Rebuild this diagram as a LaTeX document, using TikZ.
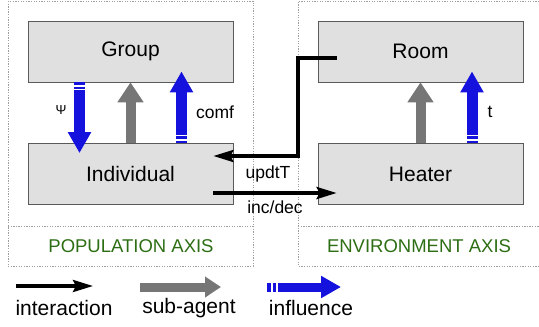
\documentclass[tikz,border=0pt]{standalone}
\usepackage{fontspec}
\setmainfont{Liberation Sans}
\usetikzlibrary{arrows.meta,calc}
\definecolor{boxfill}{RGB}{224,224,224}
\definecolor{boxline}{RGB}{90,90,90}
\definecolor{inflblue}{RGB}{22,18,222}
\definecolor{subgray}{RGB}{118,118,118}
\definecolor{axisgreen}{RGB}{45,110,20}
\tikzset{
  agent/.style={draw=boxline, line width=0.8pt, fill=boxfill, minimum width=205pt, minimum height=61pt, inner sep=0pt, font=\fontsize{21}{24}\selectfont},
  frame/.style={draw=gray!75, line width=0.8pt, dash pattern=on 1.3pt off 1.3pt},
  inter/.style={line width=3.4pt, -{Stealth[length=20pt,width=12pt,inset=3pt]}},
  subag/.style={subgray, line width=10pt, -{Triangle[length=20pt,width=25pt]}},
  infl/.style={inflblue, line width=11pt, -{Triangle[length=21pt,width=22pt]}},
  inflbars/.style={inflblue, line width=11pt, dash pattern=on 2.6pt off 1.6pt},
  lbl/.style={font=\fontsize{17.5}{20}\selectfont, inner sep=0pt},
  axis/.style={text=axisgreen, font=\fontsize{18.5}{21}\selectfont, inner sep=0pt},
  legtext/.style={font=\fontsize{21}{24}\selectfont, inner sep=0pt}
}
\begin{document}
\begin{tikzpicture}[x=1pt,y=-1pt]
\useasboundingbox[fill=white] (0,0) rectangle (539,327);
% frames
\draw[frame] (8,1) rectangle (253,266);
\draw[frame] (8,226) -- (253,226);
\draw[frame] (560,1) -- (298,1) -- (298,266) -- (560,266);
\draw[frame] (298,226) -- (560,226);
% agents
\node[agent] (group) at (130.5,51.5) {Group};
\node[agent] (individual) at (130.5,174) {Individual};
\node[agent] (room) at (420.5,51.5) {Room};
\node[agent] (heater) at (420.5,174) {Heater};
% population axis arrows
\draw[inflbars] ([xshift=-51pt]group.south) -- ($([xshift=-51pt]group.south)+(0,8)$);
\draw[infl] ($([xshift=-51pt]group.south)+(0,8)$) -- ($([xshift=-51pt]individual.north)+(0,10)$);
\draw[subag] (individual.north) -- (group.south);
\draw[inflbars] ([xshift=51pt]individual.north) -- ($([xshift=51pt]individual.north)+(0,-8)$);
\draw[infl] ($([xshift=51pt]individual.north)+(0,-8)$) -- ($([xshift=51pt]group.south)+(0,-11)$);
\node[font=\fontsize{13}{15}\selectfont, inner sep=0pt] (psi) at (61,110) {Ψ};
\node[lbl] (comf) at (215,112) {comf};
% environment axis arrows
\draw[subag] (heater.north) -- (room.south);
\draw[inflbars] ([xshift=51.5pt]heater.north) -- ($([xshift=51.5pt]heater.north)+(0,-8)$);
\draw[infl] ($([xshift=51.5pt]heater.north)+(0,-8)$) -- ($([xshift=51.5pt]room.south)+(0,-11)$);
\node[lbl] (tlbl) at (490,112) {t};
% interactions
\coordinate (ustart) at ($(room.west)+(19,6.5)$);
\coordinate (uend) at ($(individual.east)+(-20,-18)$);
\coordinate (ubend) at (298,156);
\draw[inter] (ustart) -- (ustart -| ubend) -- (ubend) -- (uend);
\node[lbl] (updt) at (268,174) {updtT};
\draw[inter] ($(individual.east)+(-20,19)$) -- ($(heater.west)+(19,19)$);
\node[lbl] (incdec) at (275,207) {inc/dec};
% axis labels
\node[axis] (popaxis) at (131,246) {POPULATION AXIS};
\node[axis] (envaxis) at (419,246) {ENVIRONMENT AXIS};
% legend
\coordinate (l1a) at (16,286); \coordinate (l1b) at (93,286);
\draw[inter] (l1a) -- (l1b);
\node[legtext] (leg1) at (64,308) {interaction};
\coordinate (l2a) at (140,287); \coordinate (l2b) at (221,287);
\draw[subag, line width=9pt, -{Triangle[length=16pt,width=20pt]}] (l2a) -- (l2b);
\node[legtext] (leg2) at (189,308) {sub-agent};
\coordinate (l3a) at (267,287); \coordinate (l3b) at (341,287);
\draw[inflblue, line width=9pt, dash pattern=on 3.5pt off 2pt] (l3a) -- ($(l3a)+(11,0)$);
\draw[inflblue, line width=9pt, -{Triangle[length=20pt,width=21pt]}] ($(l3a)+(11,0)$) -- (l3b);
\node[legtext] (leg3) at (311,308) {influence};
\end{tikzpicture}
\end{document}
